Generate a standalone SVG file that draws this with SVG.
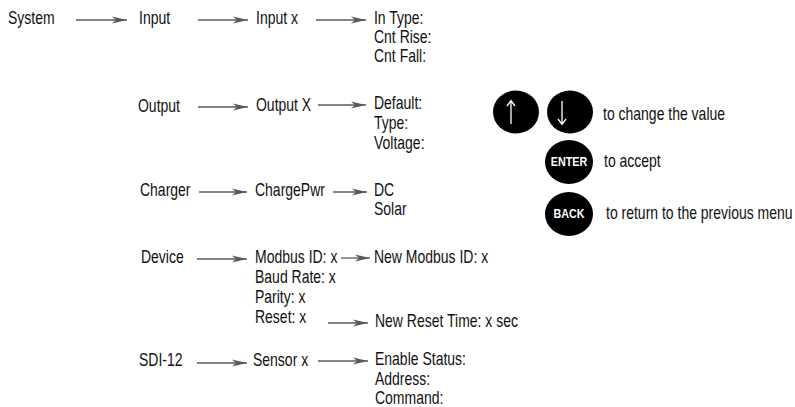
<svg xmlns="http://www.w3.org/2000/svg" width="795" height="407" viewBox="0 0 795 407">
<style>
text{font-family:"Liberation Sans",Arial,sans-serif;font-size:17.5px;fill:#111;transform-box:fill-box;transform-origin:0 50%;transform:scaleX(0.8)}
.c line{stroke:#5a5a5a;stroke-width:1.3;marker-end:url(#ah)}
.btn{fill:#000}
text.bt{font-size:12.5px;font-weight:bold;fill:#fff;text-anchor:middle;transform-origin:50% 50%;transform:scaleX(0.86)}
.ico{stroke:#fff;stroke-width:1.3;fill:none}
</style>
<defs>
<marker id="ah" markerUnits="userSpaceOnUse" markerWidth="16" markerHeight="8" refX="15" refY="4" orient="auto">
<path d="M0,0.5 L15,4 L0,7.5 L4,4 Z" fill="#5a5a5a"/>
</marker>
</defs>
<g class="c" id="connectors">
<line x1="76" y1="20" x2="127" y2="20"/>
<line x1="198" y1="20" x2="248" y2="20"/>
<line x1="316" y1="20" x2="366" y2="20"/>
<line x1="198" y1="107" x2="248" y2="107"/>
<line x1="318" y1="105" x2="366" y2="105"/>
<line x1="199" y1="192" x2="247" y2="192"/>
<line x1="333" y1="192" x2="367" y2="192"/>
<line x1="197" y1="259" x2="247" y2="259"/>
<line x1="341" y1="258" x2="370" y2="258"/>
<line x1="328" y1="323" x2="368" y2="323"/>
<line x1="197" y1="363" x2="247" y2="363"/>
<line x1="318" y1="361" x2="368" y2="361"/>
</g>
<g id="system"><text x="8" y="24">System</text></g>
<g id="input"><text x="139" y="24">Input</text></g>
<g id="input-x"><text x="256" y="24">Input x</text></g>
<g id="input-params"><text x="374" y="24">In Type:</text><text x="374" y="43">Cnt Rise:</text><text x="374" y="62">Cnt Fall:</text></g>
<g id="output"><text x="138" y="112">Output</text></g>
<g id="output-x"><text x="256" y="111">Output X</text></g>
<g id="output-params"><text x="374" y="109">Default:</text><text x="374" y="129">Type:</text><text x="374" y="149">Voltage:</text></g>
<g id="charger"><text x="140" y="196">Charger</text></g>
<g id="chargepwr"><text x="255" y="196">ChargePwr</text></g>
<g id="charge-params"><text x="374" y="196">DC</text><text x="374" y="215">Solar</text></g>
<g id="device"><text x="141" y="263">Device</text></g>
<g id="device-params"><text x="255" y="263">Modbus ID: x</text><text x="255" y="283">Baud Rate: x</text><text x="255" y="303">Parity: x</text><text x="255" y="323">Reset: x</text></g>
<g id="new-modbus"><text x="374" y="263">New Modbus ID: x</text></g>
<g id="new-reset"><text x="375" y="327">New Reset Time: x sec</text></g>
<g id="sdi12"><text x="139" y="366">SDI-12</text></g>
<g id="sensor-x"><text x="253" y="366">Sensor x</text></g>
<g id="sensor-params"><text x="375" y="365">Enable Status:</text><text x="375" y="385">Address:</text><text x="375" y="404">Command:</text></g>
<g id="legend-updown">
<ellipse class="btn" cx="516" cy="112" rx="23" ry="21.5"/>
<ellipse class="btn" cx="570" cy="112" rx="23" ry="21.5"/>
<path class="ico" d="M511,124 V101 M507,106 L511,100.5 L515,106"/>
<path class="ico" d="M562,101 V124 M558,119 L562,124.5 L566,119"/>
<text x="603" y="120">to change the value</text>
</g>
<g id="legend-enter">
<ellipse class="btn" cx="569" cy="162" rx="24" ry="22"/>
<text class="bt" x="569" y="166.5">ENTER</text>
<text x="604" y="167">to accept</text>
</g>
<g id="legend-back">
<ellipse class="btn" cx="569" cy="214" rx="24" ry="22"/>
<text class="bt" x="569" y="218.5">BACK</text>
<text x="606" y="219">to return to the previous menu</text>
</g>
</svg>
